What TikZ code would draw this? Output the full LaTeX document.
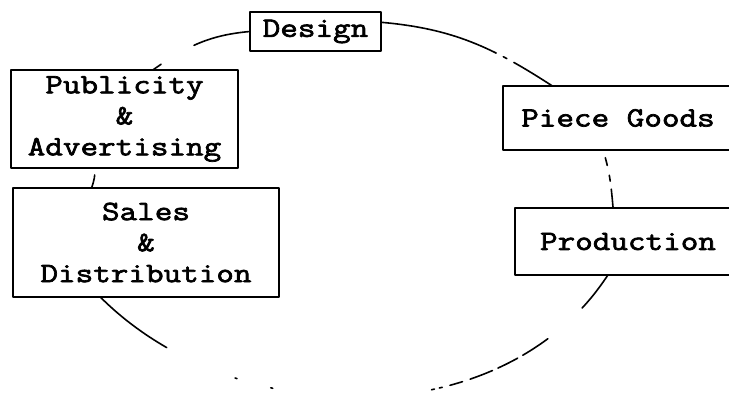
\documentclass[tikz,border=0pt]{standalone}
\usepackage{fontspec}
\usepackage{tikz}
\usetikzlibrary{positioning}
\newfontfamily\stagefont{Latin Modern Mono}[FakeStretch=1.22,FakeBold=2.5]
\tikzset{
    every picture/.style={line cap=round,line join=round},
    stagebox/.style={draw,line width=1.1pt,inner sep=0pt,outer sep=0pt,
      font=\stagefont\fontsize{14}{15.5}\selectfont,align=center},
    loopline/.style={draw,line width=0.8pt}
}
\begin{document}
\begin{tikzpicture}[x=0.5pt,y=0.5pt]
  \path[use as bounding box,clip] (0,0) rectangle (729,396);
  \node[stagebox,minimum width=65.5pt,minimum height=19.5pt] (design) at (315.5,364.5) {Design};
  \node[stagebox,minimum width=113.5pt,minimum height=49pt,below left=9.5pt and 6pt of design] (pub) {Publicity\\\&\\Advertising};
  \node[stagebox,minimum width=133pt,minimum height=54.5pt,below right=10pt and 1pt of pub.south west] (sales) {Sales\\\&\\Distribution};
  \node[stagebox,minimum width=115pt,minimum height=32pt,below right=17.5pt and 61pt of design] (piece) {Piece Goods};
  \node[stagebox,minimum width=113pt,minimum height=33.5pt,below right=29pt and 6pt of piece.south west] (prod) {Production};
  \draw[loopline,dash pattern=on 29pt off 19pt on 6pt] (design.west) to[out=185,in=35] (pub.60);
  \draw[loopline,dash pattern=on 60pt off 4pt on 2pt off 4pt on 60pt] (design.8) to[out=-5,in=147] (piece.154);
  \draw[loopline,dash pattern=on 0pt off 4pt on 4pt off 5pt on 3pt off 4pt on 8pt] (piece.-115) to[out=-73,in=95] (prod.114);
  \draw[loopline,dash pattern=on 0pt off 3.5pt on 7pt] (pub.-121) to[bend left=10] (sales.135);
  \draw[loopline,dash pattern=on 21pt off 23pt on 15pt off 3pt on 11pt off 3pt on 12pt off 4pt on 6.5pt off 4pt on 1.5pt off 2.5pt on 1.5pt off 80pt on 1pt off 17.5pt on 1pt off 37.5pt on 60pt]
    (prod.-121) to[out=-123,in=-45,distance=96pt] (sales.-130);
\end{tikzpicture}
\end{document}
